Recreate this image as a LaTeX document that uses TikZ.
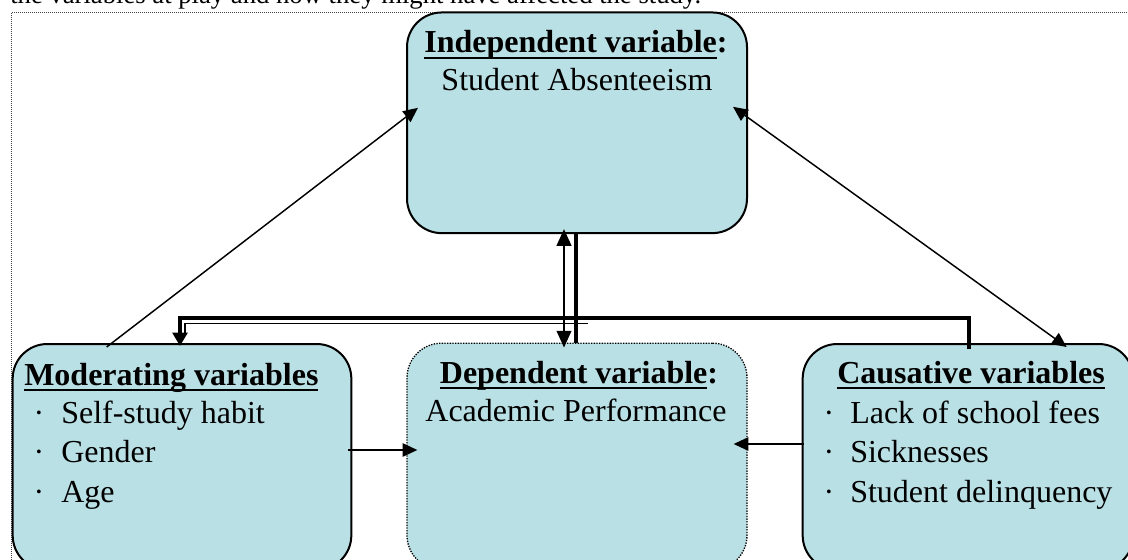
\documentclass[tikz,border=0pt]{standalone}
\usepackage{fontspec}
\setmainfont{Liberation Serif}
\usetikzlibrary{arrows.meta,calc}
\definecolor{boxfill}{RGB}{185,224,228}
\newcommand\myul[1]{\setbox0\hbox{#1}\rlap{\rule[-4.6pt]{\wd0}{1.9pt}}\box0}
\begin{document}
\begin{tikzpicture}[x=0.75pt,y=-0.75pt,
  box/.style={draw=black, line width=1.5pt, fill=boxfill, rounded corners=26pt, inner sep=0pt},
  depbox/.style={box, line width=1pt, dash pattern=on 1pt off 1pt},
  txt/.style={inner sep=0pt, font=\fontsize{24}{29}\selectfont},
  ttl/.style={inner sep=0pt, font=\fontsize{24}{29}\selectfont\bfseries},
  thinarrow/.style={line width=1.1pt, -{Triangle[length=11pt,width=10pt]}},
  boththin/.style={line width=1.1pt, {Triangle[length=11pt,width=10pt]}-{Triangle[length=11pt,width=10pt]}},
  thickline/.style={line width=3pt, line join=miter},
  frame/.style={draw=black!75, line width=0.75pt, dash pattern=on 0.75pt off 0.75pt}]
\useasboundingbox (0,0) rectangle (1128,560);
\clip (0,0) rectangle (1128,560);
% intro text (cut off at top)
\node[inner sep=0pt, anchor=base west, font=\fontsize{20}{24}\selectfont] (intro) at (10,4) {the variables at play and how they might have affected the study.};
% outer dotted frame
\draw[frame] (11,13) rectangle (1150,600);
% boxes
\node[box, minimum width=255pt, minimum height=165.5pt] (ind) at (577,122.8) {};
\node[box, minimum width=254pt, minimum height=169.5pt] (mod) at (182,457) {};
\node[depbox, minimum width=255pt, minimum height=170pt] (dep) at (577,456.5) {};
\node[box, minimum width=248pt, minimum height=169.5pt] (cau) at (968,457) {};
% texts
\node[ttl, anchor=base] (indt) at (576,53) {\myul{Independent variable}:};
\node[txt, anchor=base] (inds) at (577,90) {Student Absenteeism};
\node[ttl, anchor=base] (dept) at (579,383) {\myul{Dependent variable}:};
\node[txt, anchor=base] (deps) at (576,421) {Academic Performance};
\node[ttl, anchor=base west] (modt) at (24,385) {\myul{Moderating variables}};
\node[txt, anchor=base] (modb1) at (39,423) {·};
\node[txt, anchor=base] (modb2) at (39,462) {·};
\node[txt, anchor=base] (modb3) at (39,502) {·};
\node[txt, anchor=base west] (mod1) at (61,423) {Self-study habit};
\node[txt, anchor=base west] (mod2) at (61,462) {Gender};
\node[txt, anchor=base west] (mod3) at (61,502) {Age};
\node[ttl, anchor=base west] (caut) at (837,383) {\myul{Causative variables}};
\node[txt, anchor=base] (caub1) at (829,423) {·};
\node[txt, anchor=base] (caub2) at (829,462) {·};
\node[txt, anchor=base] (caub3) at (829,502) {·};
\node[txt, anchor=base west] (cau1) at (850,423) {Lack of school fees};
\node[txt, anchor=base west] (cau2) at (850,462) {Sicknesses};
\node[txt, anchor=base west] (cau3) at (850,502) {Student delinquency};
% connectors
\draw[line width=3.5pt] ($(ind.south)+(-1,0)$) -- ($(dep.north)+(-1,0)$);
\draw[thickline, -{Triangle[length=10pt,width=11pt]}] ($(cau.north west)+(167,6)$) |- ($(mod.north)+(-2,-25)$) -- ($(mod.north)+(-2,3)$);
\draw[line width=1pt] ($(mod.north)+(3,-10)$) |- ($(dep.north)+(11,-19)$);
\draw[line width=1.5pt, {Triangle[length=12.5pt,width=11pt]}-{Triangle[length=12.5pt,width=11pt]}] ($(ind.south)+(-13,-5)$) -- ($(dep.north)+(-13,5)$);
\draw[thinarrow] ($(mod.north west)+(95,4)$) -- ($(ind.west)+(12,-15)$);
\draw[boththin] ($(ind.east)+(-15,-16)$) -- ($(cau.north west)+(265,4)$);
\draw[thinarrow] ($(mod.east)+(-4,-7)$) -- ($(dep.west)+(11,-6.5)$);
\draw[thinarrow] ($(cau.west)+(2,-13)$) -- ($(dep.east)+(-14,-12.5)$);
\end{tikzpicture}
\end{document}
